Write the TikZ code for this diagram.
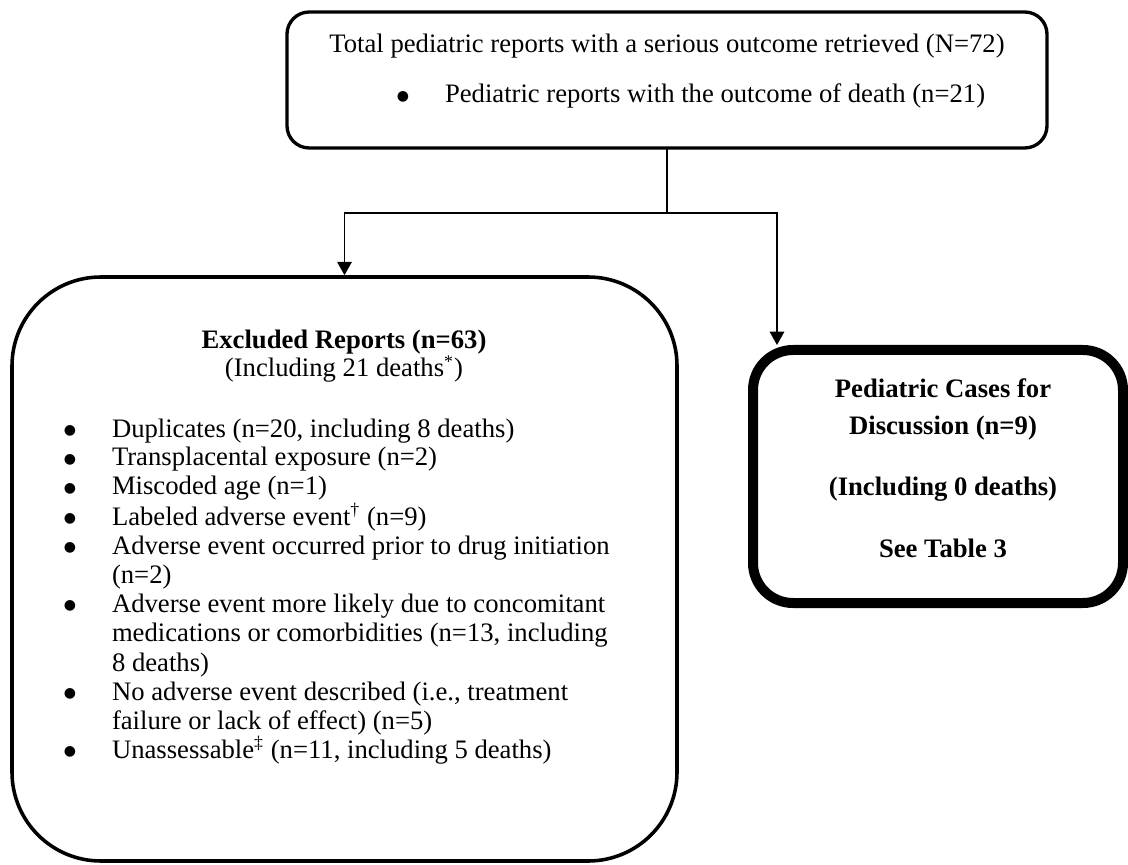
\documentclass[tikz,border=0pt]{standalone}
\usepackage{fontspec}
\setmainfont{Liberation Serif}
\newfontfamily\dotfont{DejaVu Sans}
\usetikzlibrary{arrows.meta}
\newcommand{\bigbul}{\raisebox{1.1pt}{\dotfont\fontsize{6.3}{7}\selectfont ●}}
\begin{document}
\begin{tikzpicture}[x=0.45pt,y=-0.45pt,
  box/.style={draw, rectangle, inner sep=0pt, outer sep=0pt},
  topbox/.style={box, line width=1.5pt, rounded corners=10pt, minimum width=342pt, minimum height=61.2pt},
  exclbox/.style={box, line width=1.6pt, rounded corners=40pt, minimum width=299.25pt, minimum height=262.8pt},
  casebox/.style={box, line width=4.5pt, rounded corners=18pt, minimum width=166.5pt, minimum height=113.85pt},
  txt/.style={inner sep=0pt, outer sep=0pt, font=\fontsize{12}{14}\selectfont},
  ltxt/.style={txt, anchor=base west},
  ctxt/.style={txt, anchor=base},
  btxt/.style={txt, anchor=base, font=\fontsize{12}{14}\selectfont\bfseries},
  bul/.style={txt, anchor=base},
  conn/.style={line width=0.8pt},
  arr/.style={conn, -{Triangle[length=6pt,width=6.5pt]}}
]
\useasboundingbox (0,0) rectangle (1128,865);
% boxes
\node[topbox] (top) at (667,80) {};
\node[exclbox] (excl) at (344.5,569) {};
\node[casebox] (cases) at (938,476.5) {};
% connectors
\coordinate (junc) at (top.south |- 0,213);
\coordinate (rt) at ([xshift=10.8pt,yshift=2.25pt]cases.north west);
\draw[conn] (top.south) -- (junc);
\draw[arr] (junc) -| ([yshift=0.8pt]excl.north);
\draw[arr] (junc) -| (rt);
% top box text
\node[ctxt] (t1) at (667,53) {Total pediatric reports with a serious outcome retrieved (N=72)};
\node[bul] (tb) at (403,103) {\bigbul};
\node[ltxt] (t2) at (445,103) {Pediatric reports with the outcome of death (n=21)};
% excluded box text
\node[btxt] (e0) at (344,349) {Excluded Reports (n=63)};
\node[ctxt] (e00) at (344,377) {(Including 21 deaths\textsuperscript{*})};
\node[bul] (b1) at (70,437) {\bigbul};
\node[ltxt] (l1) at (112,437) {Duplicates (n=20, including 8 deaths)};
\node[bul] (b2) at (70,466) {\bigbul};
\node[ltxt] (l2) at (112,466) {Transplacental exposure (n=2)};
\node[bul] (b3) at (70,495) {\bigbul};
\node[ltxt] (l3) at (112,495) {Miscoded age (n=1)};
\node[bul] (b4) at (70,525) {\bigbul};
\node[ltxt] (l4) at (112,525) {Labeled adverse event\textsuperscript{†} (n=9)};
\node[bul] (b5) at (70,554) {\bigbul};
\node[ltxt] (l5) at (112,554) {Adverse event occurred prior to drug initiation};
\node[ltxt] (l6) at (112,583) {(n=2)};
\node[bul] (b7) at (70,612) {\bigbul};
\node[ltxt] (l7) at (112,612) {Adverse event more likely due to concomitant};
\node[ltxt] (l8) at (112,641) {medications or comorbidities (n=13, including};
\node[ltxt] (l9) at (112,671) {8 deaths)};
\node[bul] (b10) at (70,700) {\bigbul};
\node[ltxt] (l10) at (112,700) {No adverse event described (i.e., treatment};
\node[ltxt] (l11) at (112,729) {failure or lack of effect) (n=5)};
\node[bul] (b12) at (70,758) {\bigbul};
\node[ltxt] (l12) at (112,758) {Unassessable\textsuperscript{‡} (n=11, including 5 deaths)};
% cases box text
\node[btxt] (c1) at (943,398) {Pediatric Cases for};
\node[btxt] (c2) at (943,434) {Discussion (n=9)};
\node[btxt] (c3) at (943,496) {(Including 0 deaths)};
\node[btxt] (c4) at (943,558) {See Table 3};
\end{tikzpicture}
\end{document}
